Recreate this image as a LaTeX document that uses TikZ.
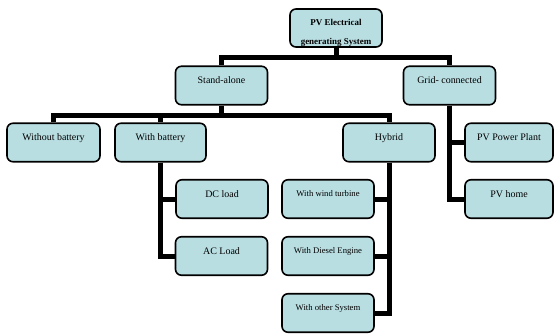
\documentclass[tikz,border=0pt]{standalone}
\usepackage{fontspec}
\setmainfont{Liberation Serif}
\usetikzlibrary{backgrounds}
\definecolor{boxfill}{RGB}{185,222,226}
\begin{document}
\begin{tikzpicture}[x=1bp,y=-1bp,
  box/.style={draw=black, line width=1.6bp, fill=boxfill, rounded corners=6bp,
    minimum width=92bp, inner xsep=2bp, inner ysep=10.5bp,
    text height=7bp, text depth=10.5bp, font=\fontsize{10}{12}\selectfont},
  smallbox/.style={box, text height=6.5bp, text depth=11bp, font=\fontsize{8.7}{10}\selectfont},
  rootbox/.style={box, text height=6bp, text depth=11bp, font=\bfseries\fontsize{9}{19}\selectfont},
  conn/.style={line width=5bp}]
\useasboundingbox (0,0) rectangle (554,333);
\node[rootbox] (root) at (336,28) {\begin{tabular}[t]{@{}c@{}}PV Electrical\\generating System\end{tabular}};
\node[box] (sa) at (221.5,85.5) {Stand-alone};
\node[box] (gc) at (449.5,85.5) {Grid- connected};
\node[box, minimum width=93bp] (wob) at (53.5,142.5) {Without battery};
\node[box, minimum width=91bp] (wb) at (160.5,142.5) {With battery};
\node[box] (hy) at (389,142.5) {Hybrid};
\node[box, minimum width=88bp] (pp) at (509,142.5) {PV Power Plant};
\node[box, minimum width=88bp] (ph) at (509,199) {PV home};
\node[box] (dc) at (222,199) {DC load};
\node[box] (ac) at (221.5,256) {AC Load};
\node[smallbox] (wt) at (328,199) {With wind turbine};
\node[smallbox] (de) at (328,256) {With Diesel Engine};
\node[smallbox] (os) at (328,313) {With other System};
\begin{scope}[on background layer]
  \fill[white] (0,0) rectangle (554,333);
  \coordinate (b1) at (0,57);
  \coordinate (b2) at (0,115);
  \draw[conn] (root.south) -- (root.south |- b1);
  \draw[conn] (sa.north) |- (b1 -| gc.north) -- (gc.north);
  \draw[conn] (sa.south) -- (sa.south |- b2);
  \draw[conn] (wob.north) |- (b2 -| hy.north) -- (hy.north);
  \draw[conn] (wb.north) -- (wb.north |- b2);
  \draw[conn] (wb.south) |- (dc.west);
  \draw[conn] (wb.south) |- (ac.west);
  \draw[conn] (hy.south) |- (wt.east);
  \draw[conn] (hy.south) |- (de.east);
  \draw[conn] (hy.south) |- (os.east);
  \draw[conn] (gc.south) |- (pp.west);
  \draw[conn] (gc.south) |- (ph.west);
\end{scope}
\end{tikzpicture}
\end{document}
